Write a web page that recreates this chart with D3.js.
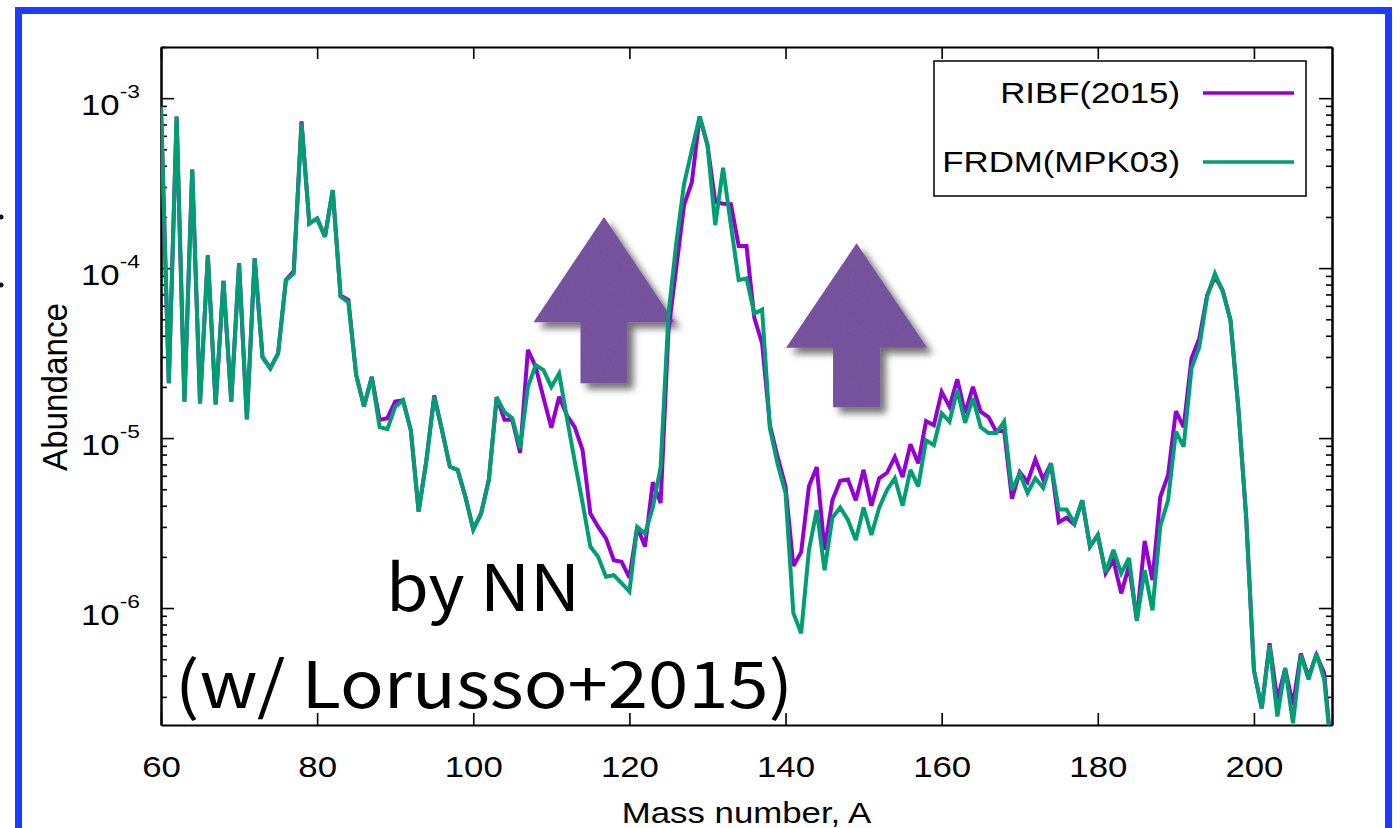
<!DOCTYPE html>
<html>
<head>
<meta charset="utf-8">
<script src="https://cdn.jsdelivr.net/npm/d3@7"></script>
<style>
  html, body { margin: 0; padding: 0; background: #fff; }
  svg { display: block; }
  .axis path, .axis line { stroke: #000; }
  .axis path { stroke-width: 2; }
  .axis line { stroke-width: 1.6; }
</style>
</head>
<body>
<svg id="chart" width="1400" height="828"></svg>
<script>
// Mass numbers A = 60 ... 210
const massNumber = d3.range(60, 211);

// r-process abundances, RIBF(2015) half-lives
const ribf = [
  8.9e-4, 2.1e-5, 7.8e-4, 1.64e-5, 3.8e-4, 1.6e-5, 1.19e-4, 1.58e-5, 8.4e-5, 1.64e-5,   // 60-69
  1.07e-4, 1.29e-5, 1.14e-4, 3.0e-5, 2.57e-5, 3.15e-5, 8.5e-5, 9.6e-5, 7.3e-4, 1.83e-4, // 70-79
  1.96e-4, 1.53e-4, 2.88e-4, 6.9e-5, 6.5e-5, 2.35e-5, 1.54e-5, 2.29e-5, 1.28e-5, 1.31e-5, // 80-89
  1.64e-5, 1.67e-5, 1.11e-5, 3.7e-6, 7.4e-6, 1.78e-5, 1.11e-5, 6.8e-6, 6.5e-6, 4.5e-6,  // 90-99
  2.9e-6, 3.6e-6, 5.7e-6, 1.74e-5, 1.28e-5, 1.28e-5, 8.2e-6, 3.3e-5, 2.62e-5, 1.72e-5,  // 100-109
  1.15e-5, 1.75e-5, 1.36e-5, 1.16e-5, 8.5e-6, 3.6e-6, 3.0e-6, 2.57e-6, 1.91e-6, 1.87e-6, // 110-119
  1.51e-6, 3.0e-6, 2.3e-6, 5.5e-6, 4.15e-6, 4.3e-5, 1.0e-4, 2.35e-4, 3.2e-4, 7.8e-4,    // 120-129
  5.3e-4, 2.45e-4, 2.39e-4, 2.38e-4, 1.35e-4, 1.35e-4, 5.1e-5, 3.6e-5, 1.19e-5, 7.7e-6, // 130-139
  5.2e-6, 1.77e-6, 2.13e-6, 5.2e-6, 6.75e-6, 2.2e-6, 4.3e-6, 5.6e-6, 5.7e-6, 4.3e-6,    // 140-149
  6.5e-6, 4.0e-6, 5.8e-6, 6.25e-6, 7.75e-6, 5.9e-6, 9.2e-6, 7.1e-6, 1.26e-5, 1.19e-5,   // 150-159
  1.87e-5, 1.53e-5, 2.22e-5, 1.4e-5, 2.0e-5, 1.43e-5, 1.33e-5, 1.09e-5, 1.11e-5, 4.4e-6, // 160-169
  6.3e-6, 5.5e-6, 7.5e-6, 5.7e-6, 7.1e-6, 3.2e-6, 3.4e-6, 3.1e-6, 4.3e-6, 2.3e-6,       // 170-179
  2.69e-6, 1.6e-6, 1.91e-6, 1.22e-6, 1.77e-6, 8.5e-7, 2.48e-6, 1.46e-6, 4.5e-6, 6.05e-6, // 180-189
  1.44e-5, 1.16e-5, 2.94e-5, 3.86e-5, 6.9e-5, 8.9e-5, 7.4e-5, 4.95e-5, 1.5e-5, 3.45e-6, // 190-199
  4.3e-7, 2.57e-7, 6.2e-7, 2.88e-7, 4.4e-7, 2.69e-7, 5.4e-7, 3.94e-7, 5.3e-7, 4.15e-7,  // 200-209
  1.3e-7                                                                                  // 210
];

// r-process abundances, FRDM (MPK03) half-lives
const frdm = [
  8.9e-4, 2.1e-5, 7.8e-4, 1.64e-5, 3.8e-4, 1.6e-5, 1.19e-4, 1.58e-5, 8.4e-5, 1.64e-5,   // 60-69
  1.07e-4, 1.29e-5, 1.14e-4, 3.0e-5, 2.57e-5, 3.15e-5, 8.5e-5, 9.3e-5, 7.1e-4, 1.83e-4, // 70-79
  1.96e-4, 1.53e-4, 2.88e-4, 6.8e-5, 6.3e-5, 2.35e-5, 1.54e-5, 2.29e-5, 1.16e-5, 1.13e-5, // 80-89
  1.53e-5, 1.67e-5, 1.11e-5, 3.7e-6, 7.4e-6, 1.75e-5, 1.11e-5, 6.8e-6, 6.5e-6, 4.5e-6,  // 90-99
  2.9e-6, 3.6e-6, 5.7e-6, 1.74e-5, 1.42e-5, 1.31e-5, 8.7e-6, 2.0e-5, 2.69e-5, 2.51e-5,  // 100-109
  2.0e-5, 2.4e-5, 1.31e-5, 7.3e-6, 4.15e-6, 2.3e-6, 2.0e-6, 1.53e-6, 1.56e-6, 1.4e-6,   // 110-119
  1.25e-6, 3.0e-6, 2.74e-6, 3.9e-6, 6.75e-6, 5.3e-5, 1.4e-4, 3.12e-4, 4.95e-4, 7.8e-4,  // 120-129
  5.3e-4, 1.79e-4, 3.9e-4, 1.79e-4, 8.5e-5, 8.7e-5, 5.4e-5, 5.7e-5, 1.14e-5, 7.0e-6,    // 130-139
  4.75e-6, 9.35e-7, 7.1e-7, 2.2e-6, 3.77e-6, 1.67e-6, 3.4e-6, 3.9e-6, 3.3e-6, 2.51e-6,  // 140-149
  3.9e-6, 2.69e-6, 3.9e-6, 4.95e-6, 5.8e-6, 4.0e-6, 6.5e-6, 5.2e-6, 9.7e-6, 9.1e-6,     // 150-159
  1.4e-5, 1.25e-5, 1.91e-5, 1.23e-5, 1.72e-5, 1.16e-5, 1.07e-5, 1.07e-5, 1.25e-5, 4.95e-6, // 160-169
  6.2e-6, 4.75e-6, 5.8e-6, 5.1e-6, 7.1e-6, 3.8e-6, 3.8e-6, 3.15e-6, 4.3e-6, 2.3e-6,     // 170-179
  2.69e-6, 1.62e-6, 2.2e-6, 1.6e-6, 1.97e-6, 8.4e-7, 1.67e-6, 9.7e-7, 3.03e-6, 4.3e-6,  // 180-189
  1.09e-5, 8.9e-6, 2.57e-5, 3.44e-5, 6.8e-5, 9.3e-5, 7.3e-5, 4.9e-5, 1.5e-5, 3.45e-6,   // 190-199
  4.3e-7, 2.57e-7, 6.05e-7, 2.3e-7, 4.45e-7, 2.1e-7, 5.3e-7, 3.8e-7, 5.4e-7, 3.8e-7,    // 200-209
  1.3e-7                                                                                  // 210
];

const seriesNames = ["RIBF(2015)", "FRDM(MPK03)"];
const seriesColors = ["#9400d3", "#009e73"];

const xTicks = [60, 80, 100, 120, 140, 160, 180, 200];
const yMajor = [1e-6, 1e-5, 1e-4, 1e-3];
const yExponent = ["-6", "-5", "-4", "-3"];

// up-arrow annotations: centre mass number, apex / shoulder / foot abundances
const arrowA = [116.75, 149.1];
const arrowApex = [2.0e-4, 1.4e-4];
const arrowShoulder = [4.8e-5, 3.4e-5];
const arrowFoot = [2.1e-5, 1.52e-5];

// ---------------------------------------------------------------------------
const svg = d3.select("#chart");
const plot = { left: 161, right: 1332, top: 47, bottom: 725 };
const FONT = "'Liberation Sans', Arial, Helvetica, sans-serif";
const FS = 29;         // label font size
const SX = 1.2;        // horizontal widening of the label glyphs

const x = d3.scaleLinear().domain([60, 210]).range([plot.left, plot.right]);
const y = d3.scaleLog().domain([2.05e-7, 2e-3]).range([plot.bottom, plot.top]);

const defs = svg.append("defs");
defs.append("clipPath").attr("id", "plotClip")
  .append("rect")
  .attr("x", plot.left).attr("y", plot.top)
  .attr("width", plot.right - plot.left).attr("height", plot.bottom - plot.top);

// paper-like arrow with a soft drop shadow
const fx = defs.append("filter").attr("id", "arrowFx")
  .attr("x", "-15%").attr("y", "-15%").attr("width", "140%").attr("height", "140%");
fx.append("feGaussianBlur").attr("in", "SourceAlpha").attr("stdDeviation", 3.5).attr("result", "blur");
fx.append("feOffset").attr("in", "blur").attr("dx", 6).attr("dy", 6).attr("result", "off");
fx.append("feFlood").attr("flood-color", "#000").attr("flood-opacity", 0.55);
fx.append("feComposite").attr("in2", "off").attr("operator", "in").attr("result", "shadow");
fx.append("feTurbulence").attr("type", "fractalNoise").attr("baseFrequency", 0.85)
  .attr("numOctaves", 2).attr("seed", 4).attr("result", "noise");
fx.append("feColorMatrix").attr("in", "noise").attr("type", "matrix")
  .attr("values", "0 0 0 0 0.25  0 0 0 0 0.12  0 0 0 0 0.4  0 0 0 0.45 -0.12")
  .attr("result", "tint");
fx.append("feComposite").attr("in", "tint").attr("in2", "SourceGraphic")
  .attr("operator", "in").attr("result", "grain");
const merge = fx.append("feMerge");
merge.append("feMergeNode").attr("in", "shadow");
merge.append("feMergeNode").attr("in", "SourceGraphic");
merge.append("feMergeNode").attr("in", "grain");

// slide frame
svg.append("rect")
  .attr("x", 18.5).attr("y", 10.5).attr("width", 1370).attr("height", 900)
  .attr("fill", "none").attr("stroke", "#1a3cff").attr("stroke-width", 7);
svg.append("circle").attr("cx", 1).attr("cy", 217).attr("r", 2.5).attr("fill", "#111");
svg.append("circle").attr("cx", 1).attr("cy", 285).attr("r", 2.5).attr("fill", "#111");

// arrows
const arrowG = svg.append("g");
arrowA.forEach((a, i) => {
  const cx = x(a), top = y(arrowApex[i]), sh = y(arrowShoulder[i]), ft = y(arrowFoot[i]);
  const hw = 70.5, sw = 23.5;
  const pts = [[cx, top], [cx + hw, sh], [cx + sw, sh], [cx + sw, ft],
               [cx - sw, ft], [cx - sw, sh], [cx - hw, sh]];
  arrowG.append("path")
    .attr("d", "M" + pts.map(p => p.join(",")).join("L") + "Z")
    .attr("fill", "#74519c")
    .attr("filter", "url(#arrowFx)");
});

// axes: ticks point into the plot on all four sides
const minorY = y.ticks().filter(v => !yMajor.some(m => Math.abs(m - v) / m < 1e-6));

svg.append("g").attr("class", "axis")
  .attr("transform", `translate(0,${plot.bottom})`)
  .call(d3.axisBottom(x).tickValues(xTicks).tickSize(-12).tickSizeOuter(0).tickFormat(d => d))
  .call(g => g.selectAll("text")
    .attr("y", 52).attr("dy", 0)
    .attr("transform", `scale(${SX},1)`)
    .attr("font-family", FONT).attr("font-size", FS).attr("fill", "#000"));

svg.append("g").attr("class", "axis")
  .attr("transform", `translate(0,${plot.top})`)
  .call(d3.axisTop(x).tickValues(xTicks).tickSize(-12).tickSizeOuter(0).tickFormat(""));

svg.append("g").attr("class", "axis")
  .attr("transform", `translate(${plot.left},0)`)
  .call(d3.axisLeft(y).tickValues(yMajor).tickSize(-13).tickSizeOuter(0).tickFormat(""));
svg.append("g").attr("class", "axis")
  .attr("transform", `translate(${plot.left},0)`)
  .call(d3.axisLeft(y).tickValues(minorY).tickSize(-6).tickSizeOuter(0).tickFormat(""));

svg.append("g").attr("class", "axis")
  .attr("transform", `translate(${plot.right},0)`)
  .call(d3.axisRight(y).tickValues(yMajor).tickSize(-13).tickSizeOuter(0).tickFormat(""));
svg.append("g").attr("class", "axis")
  .attr("transform", `translate(${plot.right},0)`)
  .call(d3.axisRight(y).tickValues(minorY).tickSize(-6).tickSizeOuter(0).tickFormat(""));

// y tick labels as powers of ten
const yLab = svg.append("g");
yMajor.forEach((v, i) => {
  const t = yLab.append("text")
    .attr("transform", `translate(${plot.left - 21},${y(v) + 17}) scale(${SX},1)`)
    .attr("text-anchor", "end")
    .attr("font-family", FONT).attr("font-size", FS).attr("fill", "#000");
  t.append("tspan").text("10");
  t.append("tspan").attr("font-size", 19).attr("dy", -17).text(yExponent[i]);
});

// axis titles
svg.append("text")
  .attr("transform", `translate(${(plot.left + plot.right) / 2},823) scale(${SX},1)`)
  .attr("text-anchor", "middle")
  .attr("font-family", FONT).attr("font-size", FS).attr("fill", "#000")
  .text("Mass number, A");

svg.append("text")
  .attr("transform", `translate(67,387) rotate(-90) scale(1,${SX})`)
  .attr("text-anchor", "middle")
  .attr("font-family", FONT).attr("font-size", FS).attr("fill", "#000")
  .attr("textLength", 168).attr("lengthAdjust", "spacingAndGlyphs")
  .text("Abundance");

// abundance curves
const line = d3.line().x((d, i) => x(massNumber[i])).y(d => y(d));
const curves = svg.append("g").attr("clip-path", "url(#plotClip)");
[ribf, frdm].forEach((s, k) => {
  curves.append("path")
    .attr("d", line(s))
    .attr("fill", "none")
    .attr("stroke", seriesColors[k])
    .attr("stroke-width", 4)
    .attr("stroke-linejoin", "miter")
    .attr("stroke-miterlimit", 3);
});

// legend
const lg = svg.append("g");
lg.append("rect")
  .attr("x", 934).attr("y", 61).attr("width", 372).attr("height", 135)
  .attr("fill", "#fff").attr("stroke", "#000").attr("stroke-width", 1.5);
seriesNames.forEach((name, k) => {
  const yy = 93 + k * 69;
  lg.append("text")
    .attr("transform", `translate(1180,${yy + 10}) scale(${SX},1)`)
    .attr("text-anchor", "end")
    .attr("font-family", FONT).attr("font-size", FS).attr("fill", "#000")
    .text(name);
  lg.append("line")
    .attr("x1", 1203).attr("x2", 1294).attr("y1", yy).attr("y2", yy)
    .attr("stroke", seriesColors[k]).attr("stroke-width", 3.5);
});

// slide annotation
const NOTE_FONT = "'Noto Sans CJK JP', 'Noto Sans', sans-serif";
svg.append("text")
  .attr("x", 386).attr("y", 611)
  .attr("font-family", NOTE_FONT).attr("font-size", 64).attr("fill", "#000")
  .attr("textLength", 194).attr("lengthAdjust", "spacingAndGlyphs")
  .text("by NN");
svg.append("text")
  .attr("x", 175).attr("y", 708)
  .attr("font-family", NOTE_FONT).attr("font-size", 64).attr("fill", "#000")
  .attr("textLength", 618).attr("lengthAdjust", "spacingAndGlyphs")
  .text("(w/ Lorusso+2015)");
</script>
</body>
</html>
